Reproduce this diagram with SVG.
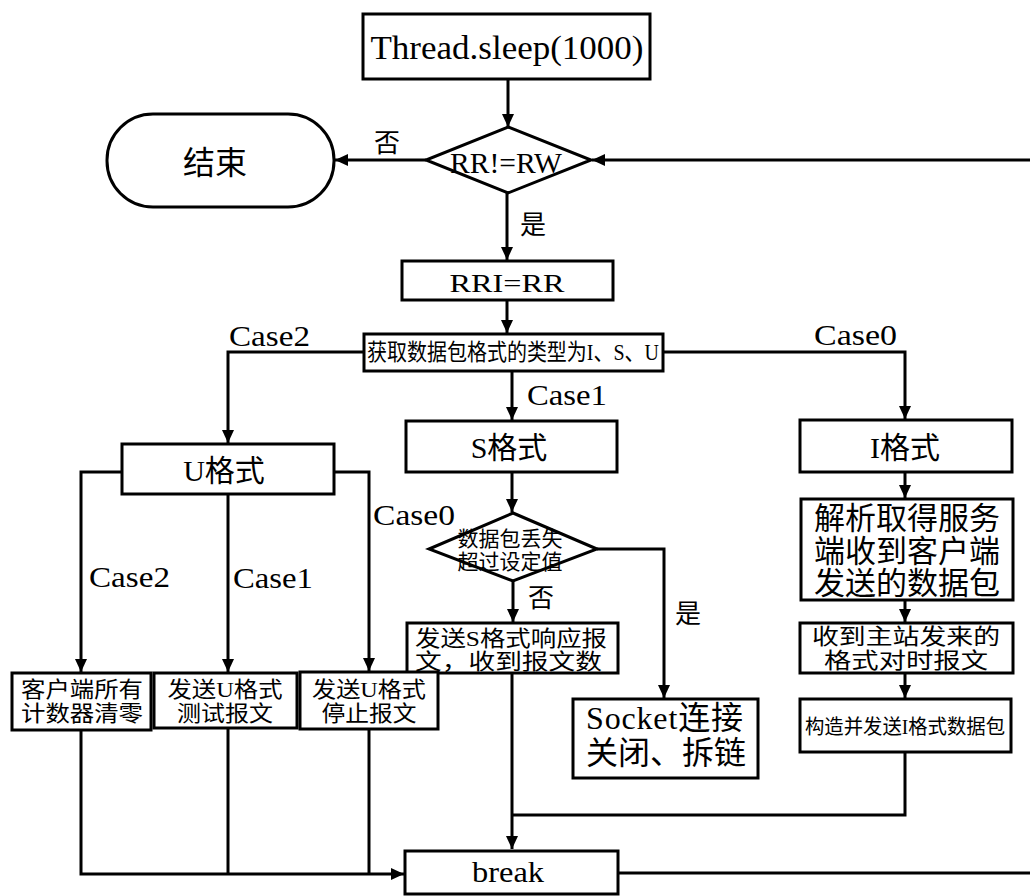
<svg xmlns="http://www.w3.org/2000/svg" width="1030" height="896" viewBox="0 0 1030 896">
<defs>
<marker id="ah" markerUnits="userSpaceOnUse" markerWidth="14" markerHeight="12" refX="13" refY="6" orient="auto">
<path d="M0,0 L13,6 L0,12 z" fill="#000"/>
</marker>
<style>
.box{fill:#fff;stroke:#000;stroke-width:3}
.ln{fill:none;stroke:#000;stroke-width:3}
.ar{fill:none;stroke:#000;stroke-width:3;marker-end:url(#ah)}
text{font-family:"Liberation Serif","Noto Sans CJK SC",serif;fill:#000}
.c{text-anchor:middle;dominant-baseline:central}
.cb{text-anchor:middle}
</style>
</defs>
<rect width="1030" height="896" fill="#fff"/>
<g id="connectors">
<line class="ar" x1="508" y1="79" x2="508" y2="127"/>
<line class="ar" x1="426" y1="160" x2="335" y2="160"/>
<line class="ar" x1="1030" y1="160" x2="592" y2="160"/>
<line class="ar" x1="507" y1="193" x2="507" y2="260"/>
<line class="ar" x1="507" y1="300" x2="507" y2="333"/>
<polyline class="ar" points="364,352 228,352 228,443"/>
<line class="ar" x1="512" y1="371" x2="512" y2="420"/>
<polyline class="ar" points="663,352 905,352 905,419"/>
<polyline class="ar" points="122,472 81,472 81,672"/>
<line class="ar" x1="228" y1="494" x2="228" y2="672"/>
<polyline class="ar" points="334,472 369,472 369,671"/>
<line class="ar" x1="512" y1="472" x2="512" y2="512"/>
<line class="ar" x1="513" y1="581" x2="513" y2="622"/>
<polyline class="ar" points="597,549 664,549 664,698"/>
<line class="ar" x1="905" y1="472" x2="905" y2="498"/>
<line class="ar" x1="905" y1="600" x2="905" y2="622"/>
<line class="ar" x1="905" y1="673" x2="905" y2="698"/>
<polyline class="ln" points="905,752 905,815 512,815"/>
<line class="ar" x1="512" y1="673" x2="512" y2="849"/>
<polyline class="ar" points="81,730 81,874 404,874"/>
<line class="ln" x1="228" y1="728" x2="228" y2="874"/>
<line class="ln" x1="369" y1="729" x2="369" y2="874"/>
<line class="ln" x1="618" y1="873" x2="1030" y2="873"/>
</g>
<g id="labels">
<text x="387" y="143" class="c" font-size="26">否</text>
<text x="533" y="225" class="c" font-size="26">是</text>
<text x="229" y="346" font-size="30" textLength="81" lengthAdjust="spacingAndGlyphs">Case2</text>
<text x="527" y="405" font-size="30" textLength="80" lengthAdjust="spacingAndGlyphs">Case1</text>
<text x="814" y="345" font-size="30" textLength="83" lengthAdjust="spacingAndGlyphs">Case0</text>
<text x="373" y="525" font-size="30" textLength="82" lengthAdjust="spacingAndGlyphs">Case0</text>
<text x="89" y="587" font-size="30" textLength="81" lengthAdjust="spacingAndGlyphs">Case2</text>
<text x="233" y="588" font-size="30" textLength="80" lengthAdjust="spacingAndGlyphs">Case1</text>
<text x="541" y="598" class="c" font-size="26">否</text>
<text x="688" y="614" class="c" font-size="26">是</text>
</g>
<g id="n-sleep">
<rect class="box" x="363" y="14" width="287" height="65"/>
<text x="507" y="59" class="cb" font-size="34" textLength="273" lengthAdjust="spacingAndGlyphs">Thread.sleep(1000)</text>
</g>
<g id="n-end">
<rect class="box" x="107" y="114" width="227" height="93" rx="46" ry="46"/>
<text x="215" y="163" class="c" font-size="32">结束</text>
</g>
<g id="n-rrrw">
<polygon class="box" points="508,127 591,160 508,193 426,160"/>
<text x="506" y="173" class="cb" font-size="30" textLength="112" lengthAdjust="spacingAndGlyphs">RR!=RW</text>
</g>
<g id="n-rri">
<rect class="box" x="402" y="261" width="211" height="39"/>
<text x="507" y="292" class="cb" font-size="25" textLength="115" lengthAdjust="spacingAndGlyphs">RRI=RR</text>
</g>
<g id="n-type">
<rect class="box" x="364" y="334" width="299" height="37"/>
<text x="513" y="352" class="c" font-size="23" textLength="292" lengthAdjust="spacingAndGlyphs">获取数据包格式的类型为I、S、U</text>
</g>
<g id="n-u">
<rect class="box" x="122" y="444" width="212" height="50"/>
<text x="224" y="470" class="c" font-size="30">U格式</text>
</g>
<g id="n-s">
<rect class="box" x="406" y="421" width="211" height="51"/>
<text x="509" y="447" class="c" font-size="30">S格式</text>
</g>
<g id="n-i">
<rect class="box" x="800" y="420" width="212" height="52"/>
<text x="905" y="447" class="c" font-size="30">I格式</text>
</g>
<g id="n-loss">
<polygon class="box" points="513,513 597,549 513,581 429,549"/>
<text x="510" y="539" class="c" font-size="21">数据包丢失</text>
<text x="510" y="562" class="c" font-size="21">超过设定值</text>
</g>
<g id="n-parse">
<rect class="box" x="801" y="499" width="212" height="101"/>
<text x="907" y="518" class="c" font-size="31">解析取得服务</text>
<text x="907" y="551" class="c" font-size="31">端收到客户端</text>
<text x="907" y="583" class="c" font-size="31">发送的数据包</text>
</g>
<g id="n-sresp">
<rect class="box" x="407" y="623" width="211" height="50"/>
<text x="415" y="638" font-size="22" dominant-baseline="central" textLength="192" lengthAdjust="spacingAndGlyphs">发送S格式响应报</text>
<text x="415" y="661" font-size="22" dominant-baseline="central" textLength="187" lengthAdjust="spacingAndGlyphs">文，收到报文数</text>
</g>
<g id="n-recv">
<rect class="box" x="800" y="623" width="213" height="50"/>
<text x="906" y="636" class="c" font-size="22" textLength="188" lengthAdjust="spacingAndGlyphs">收到主站发来的</text>
<text x="906" y="660" class="c" font-size="22" textLength="164" lengthAdjust="spacingAndGlyphs">格式对时报文</text>
</g>
<g id="n-clear">
<rect class="box" x="12" y="673" width="139" height="57"/>
<text x="82" y="689" class="c" font-size="22" textLength="122" lengthAdjust="spacingAndGlyphs">客户端所有</text>
<text x="82" y="713" class="c" font-size="22" textLength="122" lengthAdjust="spacingAndGlyphs">计数器清零</text>
</g>
<g id="n-test">
<rect class="box" x="154" y="673" width="143" height="55"/>
<text x="225" y="689" class="c" font-size="22" textLength="115" lengthAdjust="spacingAndGlyphs">发送U格式</text>
<text x="225" y="713" class="c" font-size="22" textLength="96" lengthAdjust="spacingAndGlyphs">测试报文</text>
</g>
<g id="n-stop">
<rect class="box" x="300" y="672" width="138" height="57"/>
<text x="369" y="689" class="c" font-size="22" textLength="114" lengthAdjust="spacingAndGlyphs">发送U格式</text>
<text x="369" y="713" class="c" font-size="22" textLength="95" lengthAdjust="spacingAndGlyphs">停止报文</text>
</g>
<g id="n-socket">
<rect class="box" x="573" y="699" width="185" height="79"/>
<text x="586" y="718" font-size="32" dominant-baseline="central" textLength="157" lengthAdjust="spacing">Socket连接</text>
<text x="586" y="753" font-size="32" dominant-baseline="central" textLength="160" lengthAdjust="spacing">关闭、拆链</text>
</g>
<g id="n-build">
<rect class="box" x="800" y="699" width="211" height="53"/>
<text x="905" y="727" class="c" font-size="20" textLength="200" lengthAdjust="spacingAndGlyphs">构造并发送I格式数据包</text>
</g>
<g id="n-break">
<rect class="box" x="405" y="851" width="213" height="43"/>
<text x="508" y="882" class="cb" font-size="30" textLength="72" lengthAdjust="spacingAndGlyphs">break</text>
</g>
</svg>
